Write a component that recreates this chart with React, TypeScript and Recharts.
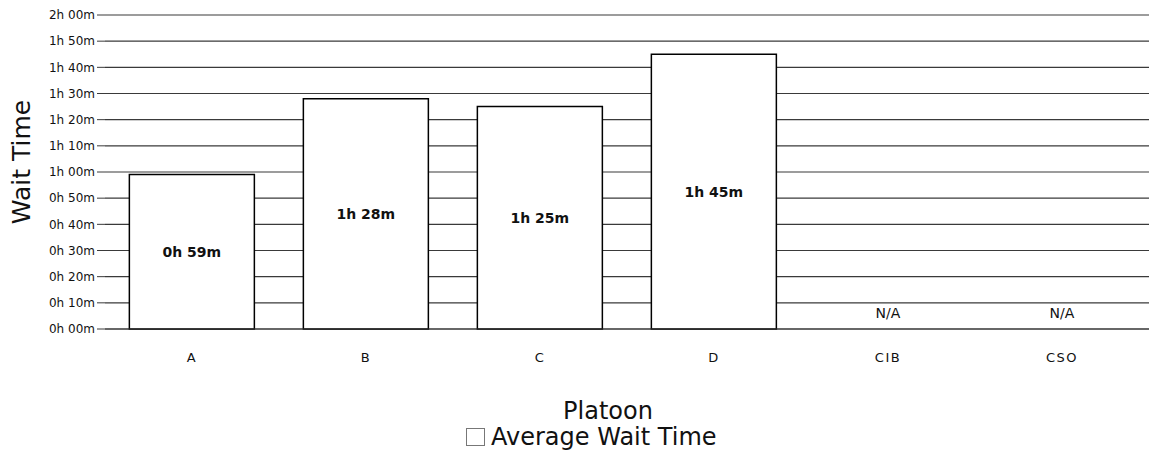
import React from 'react';
import { BarChart, Bar, XAxis, YAxis, CartesianGrid, Legend, LabelList } from 'recharts';

const platoons = ['A', 'B', 'C', 'D', 'CIB', 'CSO'];
const waitMinutes: (number | null)[] = [59, 88, 85, 105, null, null];
const yTicks = [0, 10, 20, 30, 40, 50, 60, 70, 80, 90, 100, 110, 120];

const data = platoons.map((name, i) => ({ name, wait: waitMinutes[i] }));

const font = '"DejaVu Sans", Verdana, sans-serif';

const fmtTime = (v: number) => `${Math.floor(v / 60)}h ${String(v % 60).padStart(2, '0')}m`;

function CategoryTick(props: any) {
  const { x, y, payload, index } = props;
  const missing = waitMinutes[index] == null;
  return (
    <g>
      {missing && (
        <text x={x} y={y - 24} textAnchor="middle" dominantBaseline="central" fontSize={14} fill="#111" fontFamily={font}>
          N/A
        </text>
      )}
      <text x={x} y={y + 20} textAnchor="middle" dominantBaseline="central" fontSize={13} letterSpacing={1.5} fill="#111" fontFamily={font}>
        {payload.value}
      </text>
    </g>
  );
}

function YTitle({ viewBox }: any) {
  const cx = viewBox.x + 21;
  const cy = viewBox.y + viewBox.height / 2 - 10;
  return (
    <text x={cx} y={cy} transform={`rotate(-90, ${cx}, ${cy})`} textAnchor="middle" dominantBaseline="central" fontSize={25} fill="#111" fontFamily={font}>
      Wait Time
    </text>
  );
}

function XTitle({ viewBox }: any) {
  const cx = viewBox.x + viewBox.width / 2 - 19;
  return (
    <text x={cx} y={viewBox.y + 82} textAnchor="middle" dominantBaseline="central" fontSize={24} fill="#111" fontFamily={font}>
      Platoon
    </text>
  );
}

function LegendContent() {
  return (
    <div style={{ display: 'flex', alignItems: 'center', fontFamily: font, fontSize: 24, color: '#111', whiteSpace: 'nowrap' }}>
      <span style={{ display: 'inline-block', width: 19, height: 18, border: '1.5px solid #777', background: '#fff', marginRight: 6, boxSizing: 'border-box' }} />
      <span>Average Wait Time</span>
    </div>
  );
}

export default function App() {
  return (
    <div style={{ position: 'absolute', left: 0, top: 0, background: '#fff' }}>
      <BarChart width={1149} height={463} data={data} margin={{ top: 15, right: 0, left: 0, bottom: 11 }} barCategoryGap="14%">
        <CartesianGrid horizontal vertical={false} stroke="#3a3a3a" strokeWidth={1.2} />
        <XAxis
          dataKey="name"
          tick={<CategoryTick />}
          tickLine={false}
          axisLine={{ stroke: '#333', strokeWidth: 1.2 }}
          height={95}
          interval={0}
          label={<XTitle />}
        />
        <YAxis
          domain={[0, 120]}
          ticks={yTicks}
          tickFormatter={fmtTime}
          width={105}
          axisLine={false}
          tickLine={{ stroke: '#3a3a3a' }}
          tickSize={8}
          tickMargin={2}
          tick={{ fontSize: 12, fill: '#111', fontFamily: font }}
          label={<YTitle />}
        />
        <Legend
          verticalAlign="bottom"
          content={<LegendContent />}
          wrapperStyle={{ left: 466, width: 290, bottom: 12, height: 28 }}
        />
        <Bar dataKey="wait" name="Average Wait Time" fill="#fff" stroke="#000" strokeWidth={1.5} isAnimationActive={false}>
          <LabelList
            dataKey="wait"
            position="center"
            formatter={(v: any) => (v == null ? '' : fmtTime(v))}
            style={{ fontSize: 14, fontWeight: 'bold', fill: '#111', fontFamily: font }}
          />
        </Bar>
      </BarChart>
    </div>
  );
}
